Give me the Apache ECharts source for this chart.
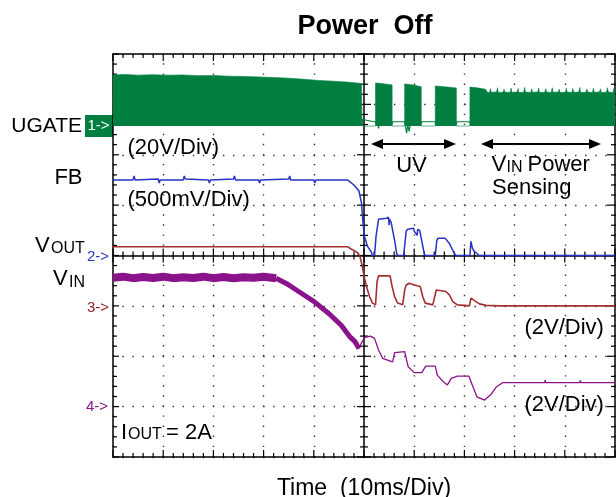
<!DOCTYPE html>
<html>
<head>
<meta charset="utf-8">
<script src="https://cdn.jsdelivr.net/npm/echarts@6/dist/echarts.min.js"></script>
<style>
html, body { margin: 0; padding: 0; background: #fff; }
#main { width: 616px; height: 497px; }
</style>
</head>
<body>
<div id="main"></div>
<script>
// time in ms (10ms/div, trigger at 0), values in volts per channel
const ugateTop = [
  [-50, 20.3], [-47.5, 20.5], [-45, 20.2], [-42, 20.4], [-39, 20.2], [-36, 20.3], [-33, 20.0],
  [-30, 20.1], [-27, 19.8], [-24, 19.7], [-21, 19.5], [-18, 19.3], [-15, 19.0], [-12, 18.6],
  [-9, 18.1], [-6, 17.8], [-3, 17.4], [-0.5, 16.9], [-0.4, 0],
  [2.3, 0], [2.3, 17.1], [3.5, 16.9], [4.5, 16.6], [5.6, 16.3], [5.6, 0],
  [8.1, 0], [8.1, 16.7], [9.5, 16.4], [10.5, 16.0], [11.4, 15.6], [11.4, 0],
  [14.2, 0], [14.2, 15.9], [15.5, 15.7], [17, 15.4], [18.4, 15.1], [18.4, 0],
  [21.1, 0], [21.1, 15.5], [22.5, 15.2], [24.2, 14.6], [24.6, 13.4],
  [25.0, 13.3], [25.2, 14.8], [25.35, 13.4], [26.4, 13.5], [26.6, 15.2], [26.75, 13.3],
  [27.7, 13.4], [27.9, 14.6], [28.05, 13.5], [29.1, 13.3], [29.3, 15.0], [29.45, 13.4],
  [30.5, 13.5], [30.7, 14.9], [30.85, 13.3], [31.8, 13.4], [32.0, 15.3], [32.15, 13.5],
  [33.2, 13.3], [33.4, 14.7], [33.55, 13.4], [34.6, 13.5], [34.8, 15.1], [34.95, 13.3],
  [36.0, 13.4], [36.2, 14.8], [36.35, 13.5], [37.3, 13.3], [37.5, 15.2], [37.65, 13.4],
  [38.7, 13.5], [38.9, 14.6], [39.05, 13.3], [40.1, 13.4], [40.3, 15.0], [40.45, 13.5],
  [41.4, 13.3], [41.6, 14.9], [41.75, 13.4], [42.8, 13.5], [43.0, 15.3], [43.15, 13.3],
  [44.2, 13.4], [44.4, 14.7], [44.55, 13.5], [45.5, 13.3], [45.7, 15.0], [45.85, 13.4],
  [46.9, 13.5], [47.1, 14.8], [47.25, 13.3], [48.3, 13.4], [48.5, 15.2], [48.65, 13.5],
  [49.6, 13.3], [49.8, 14.9], [50, 13.4]
]
const ugateLow = [
  [-50, 0.4], [-0.4, 0.4], [-0.3, 2.8], [0.5, 2.3], [1.5, 1.9], [2.3, 1.7], [2.4, 0.8],
  [2.8, 0.6], [2.9, -0.9], [3.0, 0.6], [5.6, 0.8], [5.7, 1.7], [8.1, 1.7], [8.2, 0.6],
  [8.5, -2.8], [8.7, 0.5], [9.0, -2.1], [9.2, 0.6], [11.4, 0.8], [11.5, 1.7], [14.2, 1.7],
  [14.3, 0.5], [18.4, 0.6], [18.5, 1.7], [21.1, 1.7], [21.2, 0.4], [50, 0.4]
]
const fb = [
  [-50, 0.75], [-46, 0.75], [-45.8, 0.79], [-45.6, 0.75], [-41, 0.76], [-40.8, 0.72], [-40.6, 0.75],
  [-36, 0.75], [-35.8, 0.79], [-35.6, 0.76], [-31, 0.75], [-30.8, 0.72], [-30.6, 0.75],
  [-26, 0.76], [-25.8, 0.79], [-25.6, 0.75], [-21, 0.75], [-20.8, 0.72], [-20.6, 0.75],
  [-15, 0.76], [-14.8, 0.79], [-14.6, 0.75], [-10, 0.75], [-9.8, 0.72], [-9.6, 0.75],
  [-3.3, 0.75], [-2, 0.70], [-1.0, 0.64], [-0.5, 0.52], [-0.2, 0.32], [0.1, 0.19], [0.7, 0.09],
  [1.4, 0.04], [1.7, 0], [2.1, 0], [2.4, 0.19], [2.9, 0.36], [4.5, 0.37], [4.9, 0.38], [5.0, 0.30],
  [5.1, 0.36], [5.4, 0.33], [6.1, 0.15], [6.5, 0.02], [6.8, 0], [7.9, 0], [8.4, 0.24], [8.7, 0.26],
  [9.9, 0.27], [10.0, 0.24], [10.6, 0.20], [10.7, 0.26], [11.1, 0.25], [11.6, 0.12], [12.0, 0.02],
  [12.2, 0], [14.2, 0], [14.5, 0.15], [14.7, 0.17], [16.2, 0.17], [17, 0.12], [18, 0.02], [18.3, 0],
  [21.1, 0], [21.3, 0.14], [21.6, 0.07], [22, 0.04], [23, 0], [50, 0]
]
const vout = [
  [-50, 2.35], [-44, 2.35], [-43.9, 2.42], [-43.8, 2.35], [-37, 2.35], [-36.9, 2.41], [-36.8, 2.35],
  [-30, 2.35], [-29.9, 2.41], [-29.8, 2.35], [-20, 2.35], [-19.9, 2.42], [-19.8, 2.35],
  [-14, 2.35], [-13.9, 2.41], [-13.8, 2.35], [-3.3, 2.35], [-2.5, 2.25], [-1.9, 2.19], [-1.2, 2.09],
  [-0.8, 1.96], [-0.4, 1.63], [0.1, 1.1], [0.6, 0.7], [1.1, 0.37], [1.7, 0.11], [2.3, 0.04],
  [2.6, 0.96], [2.9, 1.19], [5.2, 1.19], [5.6, 0.77], [6.1, 0.37], [6.7, 0.11], [7.7, 0.04],
  [8.1, 0.63], [8.4, 0.83], [9.0, 0.9], [10, 0.83], [11.2, 0.77], [11.7, 0.37], [12.2, 0.11],
  [13.7, 0.04], [14.4, 0.63], [14.5, 0.70], [14.6, 0.63], [14.7, 0.66], [16.3, 0.57], [17, 0.44],
  [17.7, 0.17], [18.6, 0.04], [21, 0], [21.3, 0.31], [22, 0.21], [23, 0.08], [24.3, 0.02],
  [27, 0], [50, 0]
]
const vinFlat = [
  [-50, 5.12], [-48, 5.16], [-46, 5.10], [-44, 5.15], [-42, 5.11], [-40, 5.16], [-38, 5.10],
  [-36, 5.14], [-34, 5.11], [-32, 5.16], [-30, 5.10], [-28, 5.15], [-26, 5.10], [-24, 5.14],
  [-22, 5.12], [-20, 5.16], [-17.5, 5.10]
]
const vinRamp = [
  [-17.5, 5.10], [-15.4, 4.88], [-13.1, 4.58], [-10, 4.18], [-6.9, 3.68], [-4.5, 3.22],
  [-2.9, 2.79], [-1.8, 2.58], [-1.0, 2.31]
]
const vinTail = [
  [-1.0, 2.31], [-0.4, 2.58], [0.2, 2.75], [1.3, 2.80], [2.1, 2.71], [2.9, 2.25], [3.7, 1.92],
  [5.7, 1.78], [6.1, 2.14], [8.1, 2.18], [8.8, 1.58], [10.0, 1.35], [11.5, 1.35], [12.3, 1.61],
  [14.2, 1.61], [14.6, 1.25], [15.8, 0.99], [16.6, 0.86], [17.4, 1.12], [18.6, 1.21], [20.9, 1.21],
  [21.7, 0.79], [22.5, 0.39], [24.0, 0.26], [25.2, 0.46], [26.4, 0.79], [27.6, 0.95], [36, 0.95],
  [36.1, 1.05], [36.2, 0.95], [43, 0.95], [43.1, 1.04], [43.2, 0.95], [50, 0.95]
]

const GREEN = '#007f40', BLUE = '#2633c4', RED = '#a33030', PURPLE = '#8a128a'
const FONT = '"Liberation Sans", Arial, sans-serif'
const DIVS = 8
// volts per division and ground position (divisions up from the bottom) per channel
function chanAxis(vdiv, zero) {
  return { type: 'value', show: false, min: -zero * vdiv, max: (DIVS - zero) * vdiv }
}

const black = { color: '#000', width: 1.5 }
const dotted = { color: '#333', width: 1.4, type: [1.4, 8.66], dashOffset: 0.7 }

function frame(dim, position, onZero, extra) {
  return Object.assign({
    type: 'value', position,
    min: dim === 'x' ? -50 : -4, max: dim === 'x' ? 50 : 4, interval: dim === 'x' ? 10 : 1,
    axisLine: { show: true, onZero, onZeroAxisIndex: 0, lineStyle: black },
    axisTick: { show: false }, axisLabel: { show: false }, splitLine: { show: false }
  }, extra || {})
}

// graticule tick marks (1/5 division minor, full division major) on the border and centre lines
const ticks = []
function tick(x, y, size, offset) { ticks.push({ value: [x, y], symbolSize: size, symbolOffset: offset }) }
for (let i = -25; i <= 25; i++) {
  const t = i * 2, major = i % 5 === 0
  tick(t, -4, major ? [1.2, 7] : [1.2, 4], major ? [0, -3.5] : [0, -2])
  tick(t, 4, major ? [1.2, 7] : [1.2, 4], major ? [0, 3.5] : [0, 2])
  tick(t, 0, major ? [1.2, 14] : [1.2, 8], [0, 0])
}
for (let i = -20; i <= 20; i++) {
  const v = i / 5, major = i % 5 === 0
  tick(-50, v, major ? [6, 1.2] : [4, 1.2], major ? [3, 0] : [2, 0])
  tick(50, v, major ? [8, 1.2] : [4, 1.2], major ? [-4, 0] : [-2, 0])
  tick(0, v, major ? [14, 1.2] : [8, 1.2], [0, 0])
}

function trace(data, yIdx, color, width, z) {
  return {
    type: 'line', data, xAxisIndex: 0, yAxisIndex: yIdx, symbol: 'none', silent: true,
    lineStyle: { color, width }, z
  }
}

function label(x, y, text, size, color, align, weight) {
  return {
    type: 'text', x, y, silent: true,
    style: {
      text, fill: color || '#000', fontSize: size, fontFamily: FONT, fontWeight: weight || 'normal',
      align: align || 'left', verticalAlign: 'middle', textAlign: align || 'left', textVerticalAlign: 'middle'
    }
  }
}
function arrow(x1, x2, y) {
  return [
    { type: 'line', silent: true, shape: { x1: x1 + 8, y1: y, x2: x2 - 8, y2: y }, style: { stroke: '#000', lineWidth: 2 } },
    { type: 'polygon', silent: true, shape: { points: [[x1, y], [x1 + 12, y - 5], [x1 + 12, y + 5]] }, style: { fill: '#000' } },
    { type: 'polygon', silent: true, shape: { points: [[x2, y], [x2 - 12, y - 5], [x2 - 12, y + 5]] }, style: { fill: '#000' } }
  ]
}

const chart = echarts.init(document.getElementById('main'))
chart.setOption({
  animation: false,
  backgroundColor: '#fff',
  title: {
    text: 'Power  Off', left: 360, top: 8, textAlign: 'center',
    textStyle: { fontFamily: FONT, fontSize: 27, fontWeight: 'bold', color: '#000' }
  },
  grid: { left: 113, top: 54, width: 502, height: 403, outerBoundsMode: 'none', containLabel: false },
  xAxis: [
    frame('x', 'bottom', false, {
      splitLine: { show: true, lineStyle: dotted },
      name: 'Time  (10ms/Div)', nameLocation: 'middle', nameGap: 20,
      nameTextStyle: { fontFamily: FONT, fontSize: 23, color: '#000' }
    }),
    frame('x', 'top', false),
    frame('x', 'bottom', true)
  ],
  yAxis: [
    frame('y', 'left', false, { splitLine: { show: true, lineStyle: dotted } }),
    frame('y', 'right', false),
    frame('y', 'left', true),
    chanAxis(20, 6.57),   // 3: UGATE
    chanAxis(0.5, 4),     // 4: FB
    chanAxis(2, 3),       // 5: VOUT
    chanAxis(2, 1)        // 6: VIN
  ],
  series: [
    {
      type: 'scatter', data: ticks, xAxisIndex: 0, yAxisIndex: 0, symbol: 'rect', silent: true,
      clip: false, itemStyle: { color: '#000', opacity: 1 }, z: 1
    },
    {
      type: 'line', data: ugateTop, xAxisIndex: 0, yAxisIndex: 3, symbol: 'none', silent: true,
      lineStyle: { width: 0.6, color: GREEN }, areaStyle: { color: GREEN, opacity: 1 }, z: 2
    },
    trace(ugateLow, 3, GREEN, 1.2, 2),
    trace(vinFlat, 6, PURPLE, 8, 3),
    trace(vinRamp, 6, PURPLE, 5, 3),
    trace(vinTail, 6, PURPLE, 1.3, 3),
    trace(vout, 5, RED, 1.6, 4),
    trace(fb, 4, BLUE, 1.5, 5)
  ],
  graphic: [
    { type: 'rect', silent: true, shape: { x: 85, y: 115, width: 28, height: 22 }, style: { fill: GREEN } },
    label(98.5, 126, '1->', 15, '#fff', 'center'),
    label(82, 126, 'UGATE', 21, '#000', 'right'),
    label(82.5, 178, 'FB', 22, '#000', 'right'),
    label(35, 245.5, 'V', 22),
    label(51, 249, 'OUT', 16),
    label(109, 256.5, '2->', 15, BLUE, 'right'),
    label(53, 279, 'V', 22),
    label(69, 282.5, 'IN', 16),
    label(109, 308, '3->', 15, '#8f1d1d', 'right'),
    label(108, 406.5, '4->', 15, PURPLE, 'right'),
    label(127.5, 147.5, '(20V/Div)', 22),
    label(127.5, 200, '(500mV/Div)', 22),
    label(411.5, 166, 'UV', 22, '#000', 'center'),
    label(491.5, 165, 'V', 22),
    label(506.5, 167.5, 'IN', 16),
    label(527.5, 165, 'Power', 22),
    label(492, 188, 'Sensing', 22),
    label(524.5, 327.5, '(2V/Div)', 22),
    label(524.5, 404.5, '(2V/Div)', 22),
    label(121, 432.5, 'I', 22),
    label(128, 435, 'OUT', 16),
    label(166, 432.5, '= 2A', 22)
  ].concat(arrow(371, 456, 144), arrow(481, 601, 144))
})
</script>
</body>
</html>
